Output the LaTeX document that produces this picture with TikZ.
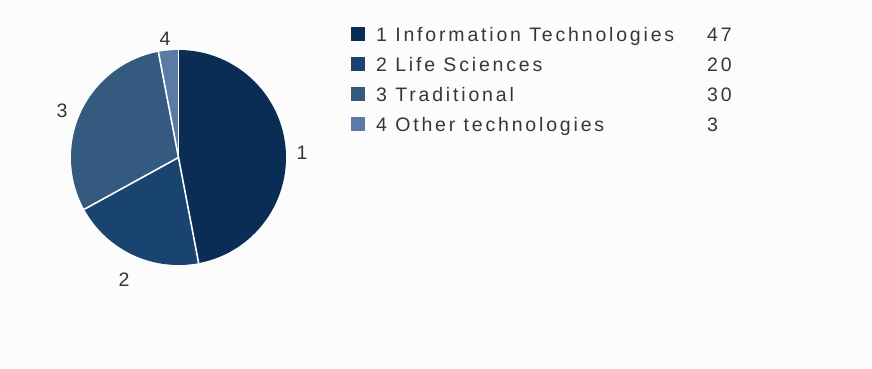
\documentclass[tikz,border=0pt]{standalone}
\usepackage{fontspec}
\setmainfont{Liberation Sans}[LetterSpace=14.5]
\definecolor{bgc}{HTML}{FCFCFC}
\definecolor{sa}{HTML}{0A2D55}
\definecolor{sb}{HTML}{19446F}
\definecolor{sc}{HTML}{355A80}
\definecolor{sd}{HTML}{5A7BA5}
\definecolor{txt}{HTML}{363636}
\tikzset{
  lbl/.style={inner sep=0pt, text=txt, font=\fontsize{19.5}{19.5}\selectfont},
  sep/.style={draw=white, line width=1.6pt},
  key/.style={inner sep=0pt, minimum size=14pt, anchor=south west}
}
\begin{document}
\begin{tikzpicture}[x=1pt,y=-1pt]
\useasboundingbox (0,0) rectangle (872,368);
\fill[bgc] (0,0) rectangle (872,368);
\coordinate (C) at (178.5,157.5);
\def\R{107.5}
% slices (angles clockwise from +x, image coordinates)
\fill[sa] (C) -- ++(-90:\R) arc[start angle=-90,end angle=79.2,radius=\R] -- cycle;
\fill[sb] (C) -- ++(79.2:\R) arc[start angle=79.2,end angle=151.2,radius=\R] -- cycle;
\fill[sc] (C) -- ++(151.2:\R) arc[start angle=151.2,end angle=259.2,radius=\R] -- cycle;
\fill[sd] (C) -- ++(259.2:\R) arc[start angle=259.2,end angle=270,radius=\R] -- cycle;
\draw[sep] (C) -- ++(-90:\R);
\draw[sep] (C) -- ++(79.2:\R);
\draw[sep] (C) -- ++(151.2:\R);
\draw[sep] (C) -- ++(259.2:\R);
% pie labels
\node[lbl, anchor=base] (p1) at (302,159) {1};
\node[lbl, anchor=base] (p2) at (124,286) {2};
\node[lbl, anchor=base] (p3) at (62,117) {3};
\node[lbl, anchor=base] (p4) at (165,45) {4};
% legend
\node[key, fill=sa] (k1) at (351,41) {};
\node[key, fill=sb] (k2) at (351,71) {};
\node[key, fill=sc] (k3) at (351,101) {};
\node[key, fill=sd] (k4) at (351,131) {};
\node[lbl, anchor=base west] (t1) at (376,41) {1 Information Technologies};
\node[lbl, anchor=base west] (t2) at (376,71) {2 Life Sciences};
\node[lbl, anchor=base west] (t3) at (376,101) {3 Traditional};
\node[lbl, anchor=base west] (t4) at (376,131) {4 Other technologies};
\node[lbl, anchor=base west] (v1) at (707,41) {47};
\node[lbl, anchor=base west] (v2) at (707,71) {20};
\node[lbl, anchor=base west] (v3) at (707,101) {30};
\node[lbl, anchor=base west] (v4) at (707,131) {3};
\end{tikzpicture}
\end{document}
